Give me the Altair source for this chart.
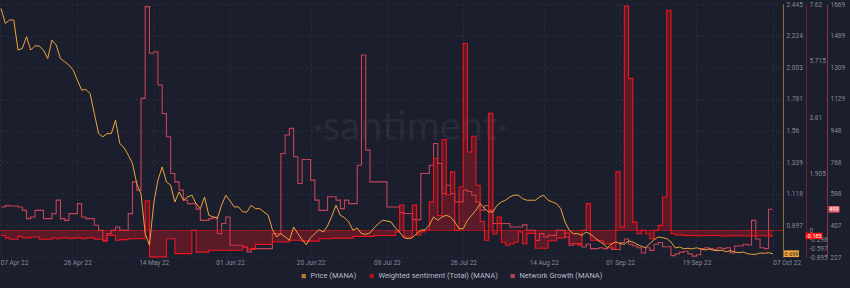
import altair as alt
import pandas as pd

START = "2022-04-08"

# Daily values (07 Apr 22 .. 07 Oct 22)
price = [
    2.414, 2.309, 2.333, 2.333, 2.123, 2.134, 2.216, 2.123, 2.153, 2.151,
    2.123, 2.064, 2.193, 2.158, 2.064, 2.041, 2.018, 1.983, 1.913, 1.843,
    1.847, 1.819, 1.679, 1.539, 1.516, 1.539, 1.539, 1.633, 1.469, 1.441,
    1.388, 1.329, 1.189, 1.119, 0.839, 0.758, 1.049, 1.213, 1.306, 1.201,
    1.178, 1.061, 1.131, 1.073, 1.096, 1.108, 1.049, 1.014, 1.096, 0.968,
    0.956, 0.944, 1.038, 1.108, 1.068, 1.026, 1.026, 0.991, 0.991, 1.038,
    1.014, 1.014, 0.991, 0.968, 0.867, 0.816, 0.839, 0.816, 0.793, 0.886,
    0.839, 0.797, 0.762, 0.811, 0.839, 0.867, 0.851, 0.893, 0.961, 1.038,
    0.968, 0.951, 0.921, 0.863, 0.879, 0.839, 0.835, 0.844, 0.881, 0.909,
    0.933, 0.928, 0.921, 0.879, 0.851, 0.811, 0.804, 0.811, 0.839, 0.863,
    0.867, 0.898, 0.956, 0.933, 0.956, 0.968, 0.956, 0.921, 0.874, 0.874,
    0.933, 0.968, 1.003, 1.049, 1.014, 0.991, 0.991, 1.038, 1.061, 1.073,
    1.096, 1.108, 1.108, 1.084, 1.073, 1.073, 1.073, 1.096, 1.108, 1.073,
    1.061, 1.049, 1.014, 0.921, 0.863, 0.839, 0.839, 0.828, 0.851, 0.835,
    0.811, 0.788, 0.769, 0.741, 0.769, 0.781, 0.769, 0.765, 0.788, 0.781,
    0.765, 0.751, 0.741, 0.769, 0.797, 0.816, 0.811, 0.804, 0.781, 0.739,
    0.746, 0.734, 0.737, 0.732, 0.741, 0.732, 0.725, 0.732, 0.723, 0.720,
    0.723, 0.713, 0.720, 0.711, 0.706, 0.711, 0.699, 0.695, 0.695, 0.704,
    0.702, 0.706, 0.699,
]

sentiment = [
    -0.17, -0.25, -0.30, -0.30, -0.20, -0.25, -0.25, -0.22, -0.22, -0.30,
    -0.30, -0.30, -0.25, -0.28, -0.25, -0.25, -0.28, -0.25, -0.25, -0.28,
    -0.25, -0.25, -0.30, -0.30, -0.36, -0.17, -0.17, -0.33, -0.31, -0.31,
    -0.28, -0.28, -0.28, -0.28, 1.00, -0.89, -0.89, -0.89, -0.89, -0.28,
    -0.28, -0.78, -0.78, -0.78, -0.78, 0.00, -0.73, -0.73, -0.73, -0.67,
    -0.67, -0.67, -0.67, -0.67, -0.67, -0.67, -0.67, -0.56, -0.64, -0.64,
    -0.47, -0.47, -0.47, -0.47, -0.39, -0.39, -0.39, -0.39, -0.33, -0.33,
    -0.33, -0.36, -0.36, -0.36, -0.36, -0.28, -0.28, -0.28, -0.26, -0.26,
    -0.26, -0.26, -0.26, -0.20, -0.20, -0.20, -0.20, -0.20, -0.17, -0.17,
    -0.17, -0.17, -0.17, -0.05, 0.85, -0.22, -0.22, 0.85, -0.15, -0.05,
    0.00, 0.96, 2.42, 0.50, 3.06, 1.20, 1.97, 0.00, 1.46, 6.29,
    2.64, 3.17, 1.52, 0.30, -0.33, 3.94, -0.12, 0.45, -0.40, -0.50,
    -0.45, -0.40, -0.05, -0.45, -0.10, -0.10, -0.60, -0.60, -0.60, -0.35,
    -0.35, -0.25, -0.25, -0.10, -0.45, -0.45, -0.50, 0.00, 0.90, -0.33,
    -0.33, -0.35, -0.45, -0.45, -0.60, 1.97, 0.11, 7.55, 5.11, 0.28,
    -0.11, 0.00, -0.11, -0.28, 0.00, 0.17, 1.12, 7.41, -0.11, -0.15,
    -0.15, -0.17, -0.17, -0.18, -0.19, -0.18, -0.18, -0.17, -0.17, -0.18,
    -0.19, -0.19, -0.18, -0.18, -0.18, -0.19, -0.19, -0.19, -0.18, -0.18,
    -0.19, -0.185, -0.185,
]

network = [
    512, 520, 518, 518, 512, 493, 446, 455, 493, 493,
    446, 446, 474, 551, 446, 436, 474, 474, 531, 455,
    446, 446, 408, 379, 322, 360, 379, 398, 379, 379,
    474, 655, 608, 1131, 1654, 1388, 1397, 1207, 1045, 912,
    703, 655, 608, 551, 531, 531, 500, 436, 436, 446,
    455, 360, 418, 455, 294, 294, 294, 284, 256, 275,
    275, 275, 275, 275, 360, 360, 817, 922, 960, 798,
    646, 783, 783, 665, 551, 493, 493, 570, 570, 551,
    503, 551, 531, 531, 750, 1378, 836, 655, 655, 655,
    655, 512, 512, 512, 480, 475, 475, 440, 440, 703,
    703, 750, 874, 760, 589, 636, 589, 541, 541, 608,
    600, 579, 540, 494, 520, 494, 418, 418, 418, 418,
    398, 398, 398, 410, 379, 379, 322, 360, 341, 350,
    350, 379, 379, 341, 294, 303, 303, 284, 300, 275,
    275, 280, 275, 280, 270, 270, 310, 330, 300, 290,
    280, 250, 280, 265, 300, 310, 285, 285, 235, 245,
    255, 260, 245, 232, 240, 275, 280, 275, 270, 280,
    275, 280, 250, 290, 290, 300, 295, 436, 330, 280,
    275, 499, 499,
]

SERIES = ["Price (MANA)", "Weighted sentiment (Total) (MANA)", "Network Growth (MANA)"]

price_ticks = [0.676, 0.897, 1.118, 1.339, 1.56, 1.781, 2.003, 2.224, 2.445]
sent_ticks = [-0.895, -0.597, -0.298, 0, 1.905, 3.81, 5.715, 7.62]
net_ticks = [227, 407, 588, 768, 948, 1129, 1309, 1489, 1669]

x_tick_dates = [
    (4, 7, 18), (4, 26, 0), (5, 14, 0), (6, 1, 0), (6, 20, 0), (7, 8, 0),
    (7, 26, 0), (8, 14, 0), (9, 1, 0), (9, 19, 0), (10, 7, 0),
]

# ---------------- styling ----------------
BG = "#1b1e2c"
PRICE_C = "#eea43e"
SENT_C = "#f0141e"
NET_C = "#d9475c"
LABEL_C = "#868b9b"
FONT = "Roboto"

W, H = 783, 253

dates = pd.date_range(START, periods=len(price), freq="D")
df = pd.DataFrame({
    "date": dates,
    "price": price,
    "sentiment": sentiment,
    "network": network,
})
df["zero"] = 0.0

last = df.tail(1).copy()
last["price_label"] = [f"{v:.3f}" for v in last["price"]]
last["sent_label"] = [f"{v:.3f}" for v in last["sentiment"]]
last["net_label"] = [f"{int(v)}" for v in last["network"]]

x_scale = alt.Scale(domain=[
    alt.DateTime(year=2022, month=4, date=7, hours=18),
    alt.DateTime(year=2022, month=10, date=9, hours=10),
])
x_axis = alt.Axis(
    values=[alt.DateTime(year=2022, month=m, date=d, hours=h) for m, d, h in x_tick_dates],
    format="%d %b %y", title=None, ticks=False, domain=False,
    grid=True, gridColor="#2a2f42", gridDash=[2, 3], gridWidth=1,
    labelFont=FONT, labelFontSize=6.5, labelColor=LABEL_C, labelPadding=2,
    labelOverlap=False,
    labelAlign={"condition": {"test": "datum.index == 0 || datum.index == 1", "value": "left"},
                "value": "center"},
)
X = alt.X("date:T", scale=x_scale, axis=x_axis)


def y_axis(values, offset, dom_color, grid=False, label_expr="'' + datum.value"):
    return alt.Axis(
        orient="right", offset=offset, values=values, title=None, ticks=False,
        domainColor=dom_color, domainWidth=1, grid=grid, gridColor="#2a2f42",
        gridDash=[2, 3], labelFont=FONT, labelFontSize=6.5, labelColor=LABEL_C,
        labelPadding=3, labelOverlap=False, labelExpr=label_expr,
    )


# the lowest price tick label sits under the current-price box in the reference
price_axis = y_axis(price_ticks, 0, "#8d7034", grid=True,
                    label_expr="datum.value < 0.7 ? '' : '' + datum.value")
sent_axis = y_axis(sent_ticks, 23, "#7a1b26")
net_axis = y_axis(net_ticks, 44, "#8a3342")

price_scale = alt.Scale(domain=[0.676, 2.445], nice=False, zero=False)
sent_scale = alt.Scale(domain=[-0.895, 7.62], nice=False, zero=False)
net_scale = alt.Scale(domain=[227, 1669], nice=False, zero=False)

base = alt.Chart(df)


def value_box(field, label_field, scale, axis, xpos, color, width, ratio, text_color):
    path = f"M-1,-{ratio}H1V{ratio}H-1Z"
    box = alt.Chart(last).mark_point(
        shape=path, filled=True, size=width * width, color=color, opacity=1
    ).encode(x=alt.value(xpos), y=alt.Y(f"{field}:Q", scale=scale, axis=axis))
    txt = alt.Chart(last).mark_text(
        font=FONT, fontSize=5.5, color=text_color, align="center", baseline="middle"
    ).encode(x=alt.value(xpos), y=alt.Y(f"{field}:Q", scale=scale, axis=axis),
             text=f"{label_field}:N")
    return box, txt


# Network growth
net_line = base.mark_line(interpolate="step-after", color=NET_C, strokeWidth=1.1, opacity=0.9).encode(
    x=X, y=alt.Y("network:Q", scale=net_scale, axis=net_axis))
nb, nt = value_box("network", "net_label", net_scale, net_axis, W + 51, "#e8606e", 11, 0.6, "#ffffff")
net_layer = alt.layer(net_line, nb, nt)

# Weighted sentiment
sent_area = base.mark_area(interpolate="step-after", color=SENT_C, opacity=0.3).encode(
    x=X, y=alt.Y("sentiment:Q", scale=sent_scale, axis=sent_axis), y2="zero:Q")
zero_df = pd.DataFrame({"sentiment": [0.0]})
sent_zero = alt.Chart(zero_df).mark_rule(color=SENT_C, opacity=0.55, strokeWidth=1).encode(
    y=alt.Y("sentiment:Q", scale=sent_scale, axis=sent_axis))
sent_line = base.mark_line(interpolate="step-after", color=SENT_C, strokeWidth=1.1).encode(
    x=X, y=alt.Y("sentiment:Q", scale=sent_scale, axis=sent_axis))
sb, st = value_box("sentiment", "sent_label", sent_scale, sent_axis, W + 31, "#ff1010", 17, 0.38, "#ffffff")
sent_layer = alt.layer(sent_area, sent_zero, sent_line, sb, st)

# Price
price_line = base.mark_line(color=PRICE_C, strokeWidth=1).encode(
    x=X, y=alt.Y("price:Q", scale=price_scale, axis=price_axis))
pb, pt = value_box("price", "price_label", price_scale, price_axis, W + 8.5, "#f3a53f", 15, 0.45, "#2a1e0c")
price_layer = alt.layer(price_line, pb, pt)

# Watermark
wm = alt.Chart(pd.DataFrame({"t": ["·santiment·"]})).mark_text(
    font="Lato", fontSize=40, color="#ffffff", opacity=0.05, align="center", baseline="middle"
).encode(x=alt.value(410), y=alt.value(124), text="t:N")

# Legend carrier (clipped out of view; only the legend shows)
legend_layer = alt.Chart(pd.DataFrame({"series": SERIES})).mark_square(size=18, clip=True).encode(
    x=alt.value(-40), y=alt.value(-40),
    color=alt.Color("series:N",
                    scale=alt.Scale(domain=SERIES, range=["#f6a23a", "#ee1111", "#ea5362"]),
                    legend=alt.Legend(orient="none", legendX=300, legendY=268, direction="horizontal",
                                      title=None, symbolType="square", symbolSize=18,
                                      symbolStrokeWidth=0, labelFont=FONT, labelFontSize=7.5,
                                      labelColor="#b8bcc8", columnPadding=11, labelOffset=3)),
)

chart = alt.layer(wm, net_layer, sent_layer, price_layer, legend_layer).resolve_scale(
    y="independent"
).properties(
    width=W, height=H,
    autosize=alt.AutoSizeParams(type="none"),
    padding={"left": 0, "top": 4, "right": 67, "bottom": 31},
    background=BG,
).configure_view(stroke=None, fill=BG)

chart.save("out.html", embed_options={"renderer": "svg", "actions": False})
